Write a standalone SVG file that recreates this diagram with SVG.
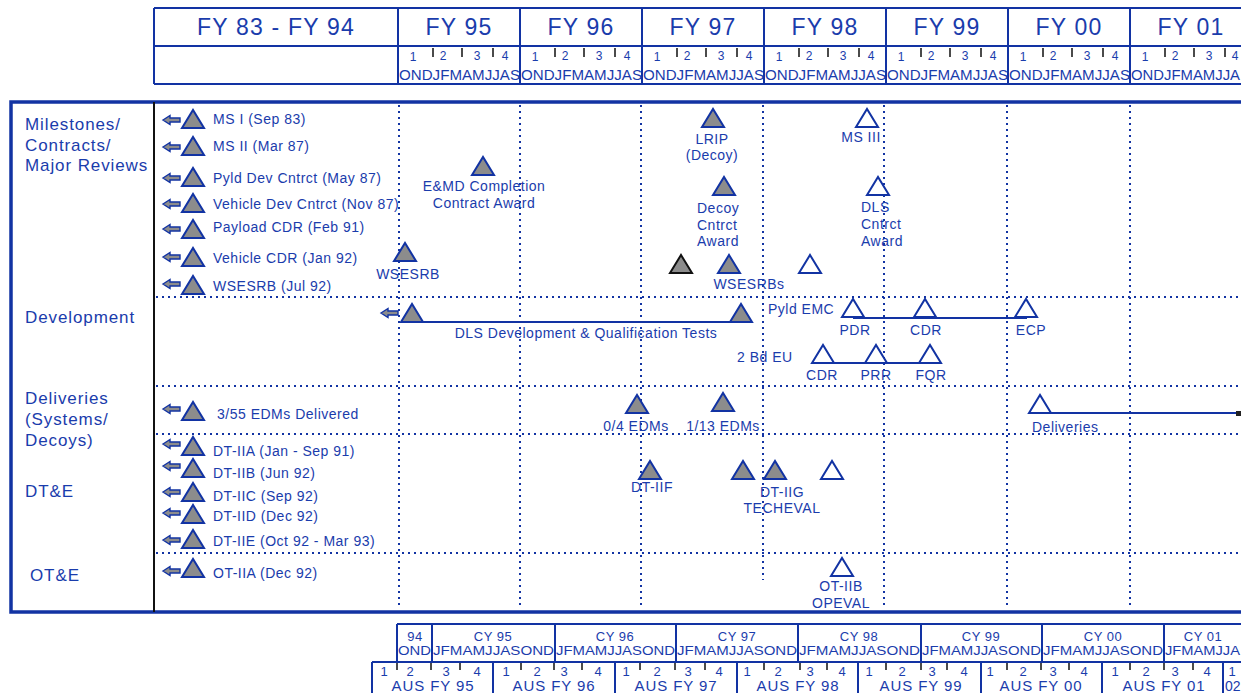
<svg xmlns="http://www.w3.org/2000/svg" xmlns:xlink="http://www.w3.org/1999/xlink" width="1241" height="693" viewBox="0 0 1241 693">
<style>
text{font-family:"Liberation Sans",Arial,sans-serif;fill:#1a3cac}
.lbl{font-size:14px;letter-spacing:0.5px}
.m{text-anchor:middle}
.cat{font-size:17px;letter-spacing:0.9px}
.fy{font-size:23px;letter-spacing:1.2px;text-anchor:middle}
.q{font-size:12px;text-anchor:middle}
.mo{font-size:14px}
.cy{font-size:13px;text-anchor:middle;letter-spacing:0.5px}
.cym{font-size:12px}
.aus{font-size:15px;text-anchor:middle;letter-spacing:0.9px}
.an{font-size:13px;text-anchor:middle}
.ln{stroke:#1233a3;stroke-width:2;fill:none}
.bx{stroke:#1233a3;stroke-width:3.5;fill:none}
.dot{stroke:#1233a3;stroke-width:2;stroke-dasharray:2 4;fill:none}
.tk{stroke:#111;stroke-width:1.5}
.g{fill:#8c8c8c;stroke:#1233a3;stroke-width:2}
.w{fill:#fff;stroke:#1233a3;stroke-width:2}
.k{fill:#8c8c8c;stroke:#111;stroke-width:2}
.ar{fill:#8c8c8c;stroke:#1233a3;stroke-width:1.4}
</style>
<defs>
<polygon id="tri" points="0,18 11,0 22,18"/>
<path id="arr" d="M0,0 L7,-4.5 L7,-2 L17,-2 L17,2 L7,2 L7,4.5 Z"/>
</defs>
<rect width="1241" height="693" fill="#fff"/>

<g id="header">
<path class="ln" d="M154,8 H1241 M154,46 H1241 M154,84 H1241 M154,8 V84 M398,8 V84 M520,8 V84 M642,8 V84 M764,8 V84 M886,8 V84 M1008,8 V84 M1130,8 V84"/>
<text class="fy" x="276" y="35">FY 83 - FY 94</text>
<text class="fy" x="459" y="35">FY 95</text>
<text class="fy" x="581" y="35">FY 96</text>
<text class="fy" x="703" y="35">FY 97</text>
<text class="fy" x="825" y="35">FY 98</text>
<text class="fy" x="947" y="35">FY 99</text>
<text class="fy" x="1069" y="35">FY 00</text>
<text class="fy" x="1191" y="35">FY 01</text>
<path class="tk" d="M433,48V57M462,48V57M493,48V57 M555,48V57M584,48V57M615,48V57 M677,48V57M706,48V57M737,48V57 M799,48V57M828,48V57M859,48V57 M921,48V57M950,48V57M981,48V57 M1043,48V57M1072,48V57M1103,48V57 M1165,48V57M1194,48V57M1225,48V57"/>
<g class="qs">
<text class="q" x="413" y="61">1</text><text class="q" x="443" y="60">2</text><text class="q" x="477" y="60">3</text><text class="q" x="505" y="60">4</text>
<text class="q" x="535" y="61">1</text><text class="q" x="565" y="60">2</text><text class="q" x="599" y="60">3</text><text class="q" x="627" y="60">4</text>
<text class="q" x="657" y="61">1</text><text class="q" x="687" y="60">2</text><text class="q" x="721" y="60">3</text><text class="q" x="749" y="60">4</text>
<text class="q" x="779" y="61">1</text><text class="q" x="809" y="60">2</text><text class="q" x="843" y="60">3</text><text class="q" x="871" y="60">4</text>
<text class="q" x="901" y="61">1</text><text class="q" x="931" y="60">2</text><text class="q" x="965" y="60">3</text><text class="q" x="993" y="60">4</text>
<text class="q" x="1023" y="61">1</text><text class="q" x="1053" y="60">2</text><text class="q" x="1087" y="60">3</text><text class="q" x="1115" y="60">4</text>
<text class="q" x="1145" y="61">1</text><text class="q" x="1175" y="60">2</text><text class="q" x="1209" y="60">3</text><text class="q" x="1235" y="60">4</text>
</g>
<text class="mo" x="399" y="80" textLength="121" lengthAdjust="spacingAndGlyphs">ONDJFMAMJJAS</text>
<text class="mo" x="521" y="80" textLength="121" lengthAdjust="spacingAndGlyphs">ONDJFMAMJJAS</text>
<text class="mo" x="643" y="80" textLength="121" lengthAdjust="spacingAndGlyphs">ONDJFMAMJJAS</text>
<text class="mo" x="765" y="80" textLength="121" lengthAdjust="spacingAndGlyphs">ONDJFMAMJJAS</text>
<text class="mo" x="887" y="80" textLength="121" lengthAdjust="spacingAndGlyphs">ONDJFMAMJJAS</text>
<text class="mo" x="1009" y="80" textLength="121" lengthAdjust="spacingAndGlyphs">ONDJFMAMJJAS</text>
<text class="mo" x="1131" y="80" textLength="109" lengthAdjust="spacingAndGlyphs">ONDJFMAMJJA</text>
</g>

<g id="frame">
<path class="bx" d="M1241,102 H11 V612 H1241"/>
<path d="M154,102 V612" stroke="#111" stroke-width="2"/>
<path class="dot" d="M156,297 H1241 M156,386 H1241 M156,434 H1241 M156,553 H1241"/>
<path class="dot" d="M399,105 V608 M520,105 V608 M641,105 V608 M763,105 V580 M884,105 V608 M1007,105 V608 M1130,105 V608"/>
</g>

<g id="categories">
<text class="cat" x="25" y="130">Milestones/</text>
<text class="cat" x="25" y="151">Contracts/</text>
<text class="cat" x="25" y="171">Major Reviews</text>
<text class="cat" x="25" y="323">Development</text>
<text class="cat" x="25" y="404">Deliveries</text>
<text class="cat" x="25" y="425">(Systems/</text>
<text class="cat" x="25" y="446">Decoys)</text>
<text class="cat" x="25" y="497">DT&amp;E</text>
<text class="cat" x="30" y="581">OT&amp;E</text>
</g>

<g id="prior-events">
<g id="ms1"><use href="#arr" class="ar" x="163" y="120"/><use href="#tri" class="g" x="182" y="110"/><text class="lbl" x="213" y="124">MS I (Sep 83)</text></g>
<g id="ms2"><use href="#arr" class="ar" x="163" y="147"/><use href="#tri" class="g" x="182" y="137"/><text class="lbl" x="213" y="151">MS II (Mar 87)</text></g>
<g id="pyld"><use href="#arr" class="ar" x="163" y="178"/><use href="#tri" class="g" x="182" y="168"/><text class="lbl" x="213" y="183">Pyld Dev Cntrct (May 87)</text></g>
<g id="vdev"><use href="#arr" class="ar" x="163" y="204"/><use href="#tri" class="g" x="182" y="194"/><text class="lbl" x="213" y="209">Vehicle Dev Cntrct (Nov 87)</text></g>
<g id="pcdr"><use href="#arr" class="ar" x="163" y="229"/><use href="#tri" class="g" x="182" y="220"/><text class="lbl" x="213" y="232">Payload CDR (Feb 91)</text></g>
<g id="vcdr"><use href="#arr" class="ar" x="163" y="257"/><use href="#tri" class="g" x="182" y="248"/><text class="lbl" x="213" y="263">Vehicle CDR (Jan 92)</text></g>
<g id="wsesrb92"><use href="#arr" class="ar" x="163" y="284"/><use href="#tri" class="g" x="182" y="276"/><text class="lbl" x="213" y="291">WSESRB (Jul 92)</text></g>
<g id="edm355"><use href="#arr" class="ar" x="163" y="409"/><use href="#tri" class="g" x="182" y="402"/><text class="lbl" x="217" y="419">3/55 EDMs Delivered</text></g>
<g id="dtiia"><use href="#arr" class="ar" x="163" y="444"/><use href="#tri" class="g" x="182" y="437"/><text class="lbl" x="213" y="456">DT-IIA (Jan - Sep 91)</text></g>
<g id="dtiib"><use href="#arr" class="ar" x="163" y="466"/><use href="#tri" class="g" x="182" y="459"/><text class="lbl" x="213" y="478">DT-IIB (Jun 92)</text></g>
<g id="dtiic"><use href="#arr" class="ar" x="163" y="492"/><use href="#tri" class="g" x="182" y="483"/><text class="lbl" x="213" y="501">DT-IIC (Sep 92)</text></g>
<g id="dtiid"><use href="#arr" class="ar" x="163" y="513"/><use href="#tri" class="g" x="182" y="505"/><text class="lbl" x="213" y="521">DT-IID (Dec 92)</text></g>
<g id="dtiie"><use href="#arr" class="ar" x="163" y="540"/><use href="#tri" class="g" x="182" y="530"/><text class="lbl" x="213" y="546">DT-IIE (Oct 92 - Mar 93)</text></g>
<g id="otiia"><use href="#arr" class="ar" x="163" y="571"/><use href="#tri" class="g" x="182" y="559"/><text class="lbl" x="213" y="578">OT-IIA (Dec 92)</text></g>
</g>

<g id="connectors">
<path class="ln" d="M412,322 H741"/>
<path class="ln" d="M853,318 H1027"/>
<path class="ln" d="M823,363 H930"/>
<path class="ln" d="M1040,413 H1237"/>
<rect x="1236" y="411" width="5" height="5" fill="#222"/>
</g>

<g id="milestones">
<g id="wsesrb"><use href="#tri" class="g" x="394" y="243"/><text class="lbl m" x="408" y="279">WSESRB</text></g>
<g id="emd"><use href="#tri" class="g" x="472" y="157"/><text class="lbl m" x="484" y="191">E&amp;MD Completion</text><text class="lbl m" x="484" y="208">Contract Award</text></g>
<g id="lrip"><use href="#tri" class="g" x="702" y="109"/><text class="lbl m" x="712" y="144">LRIP</text><text class="lbl m" x="712" y="160">(Decoy)</text></g>
<g id="decoy"><use href="#tri" class="g" x="713" y="177"/><text class="lbl" x="697" y="213">Decoy</text><text class="lbl" x="697" y="230">Cntrct</text><text class="lbl" x="697" y="246">Award</text></g>
<g id="wsesrbs"><use href="#tri" class="k" x="670" y="255"/><use href="#tri" class="g" x="718" y="255"/><use href="#tri" class="w" x="799" y="255"/><text class="lbl m" x="749" y="289">WSESRBs</text></g>
<g id="ms3"><use href="#tri" class="w" x="856" y="109"/><text class="lbl m" x="861" y="142">MS III</text></g>
<g id="dls"><use href="#tri" class="w" x="867" y="177"/><text class="lbl" x="861" y="212">DLS</text><text class="lbl" x="861" y="229">Cntrct</text><text class="lbl" x="861" y="246">Award</text></g>
</g>

<g id="development">
<g id="dls-dev"><use href="#arr" class="ar" x="381" y="313"/><use href="#tri" class="g" x="401" y="304"/><use href="#tri" class="g" x="730" y="304"/><text class="lbl m" x="586" y="338">DLS Development &amp; Qualification Tests</text></g>
<g id="pyld-emc"><text class="lbl" x="768" y="314">Pyld EMC</text>
<use href="#tri" class="w" x="842" y="299"/><use href="#tri" class="w" x="914" y="299"/><use href="#tri" class="w" x="1015" y="299"/>
<text class="lbl m" x="855" y="335">PDR</text><text class="lbl m" x="926" y="335">CDR</text><text class="lbl m" x="1031" y="335">ECP</text></g>
<g id="bd-eu"><text class="lbl" x="737" y="362">2 Bd EU</text>
<use href="#tri" class="w" x="812" y="345"/><use href="#tri" class="w" x="865" y="345"/><use href="#tri" class="w" x="919" y="345"/>
<text class="lbl m" x="822" y="380">CDR</text><text class="lbl m" x="876" y="380">PRR</text><text class="lbl m" x="931" y="380">FQR</text></g>
</g>

<g id="deliveries">
<g id="edm04"><use href="#tri" class="g" x="626" y="395"/><text class="lbl m" x="636" y="431">0/4 EDMs</text></g>
<g id="edm113"><use href="#tri" class="g" x="712" y="393"/><text class="lbl m" x="723" y="431">1/13 EDMs</text></g>
<g id="deliv"><use href="#tri" class="w" x="1029" y="395"/><text class="lbl" x="1032" y="432">Deliveries</text></g>
</g>

<g id="tests">
<g id="dtiif"><use href="#tri" class="g" x="639" y="461"/><text class="lbl m" x="652" y="492">DT-IIF</text></g>
<g id="dtiig"><use href="#tri" class="g" x="732" y="461"/><use href="#tri" class="g" x="764" y="461"/><use href="#tri" class="w" x="821" y="461"/><text class="lbl m" x="782" y="497">DT-IIG</text><text class="lbl m" x="782" y="513">TECHEVAL</text></g>
<g id="otiib"><use href="#tri" class="w" x="831" y="558"/><text class="lbl m" x="841" y="591">OT-IIB</text><text class="lbl m" x="841" y="608">OPEVAL</text></g>
</g>

<g id="footer">
<path class="ln" d="M397,624 H1241 M372,662 H1241 M397,624 V662 M432,624 V662 M555,624 V662 M676,624 V662 M798,624 V662 M921,624 V662 M1042,624 V662 M1164,624 V662"/>
<path class="ln" d="M372,662 V693 M493,662 V693 M615,662 V693 M737,662 V693 M858,662 V693 M981,662 V693 M1102,662 V693 M1223,662 V693"/>
<text class="cy" x="415" y="641">94</text>
<text class="cym" x="398" y="655" textLength="33" lengthAdjust="spacingAndGlyphs">OND</text>
<text class="cy" x="493" y="641">CY 95</text>
<text class="cy" x="615" y="641">CY 96</text>
<text class="cy" x="737" y="641">CY 97</text>
<text class="cy" x="859" y="641">CY 98</text>
<text class="cy" x="981" y="641">CY 99</text>
<text class="cy" x="1103" y="641">CY 00</text>
<text class="cy" x="1203" y="641">CY 01</text>
<text class="cym" x="433" y="655" textLength="121" lengthAdjust="spacingAndGlyphs">JFMAMJJASOND</text>
<text class="cym" x="556" y="655" textLength="119" lengthAdjust="spacingAndGlyphs">JFMAMJJASOND</text>
<text class="cym" x="677" y="655" textLength="120" lengthAdjust="spacingAndGlyphs">JFMAMJJASOND</text>
<text class="cym" x="799" y="655" textLength="121" lengthAdjust="spacingAndGlyphs">JFMAMJJASOND</text>
<text class="cym" x="922" y="655" textLength="119" lengthAdjust="spacingAndGlyphs">JFMAMJJASOND</text>
<text class="cym" x="1043" y="655" textLength="120" lengthAdjust="spacingAndGlyphs">JFMAMJJASOND</text>
<text class="cym" x="1165" y="655" textLength="75" lengthAdjust="spacingAndGlyphs">JFMAMJJA</text>
<path class="tk" d="M397,663V670M431,663V670M460,663V670 M521,663V670M554,663V670M582,663V670 M640,663V670M675,663V670M705,663V670 M764,663V670M800,663V670M827,663V670 M886,663V670M921,663V670M947,663V670 M1007,663V670M1041,663V670M1069,663V670 M1130,663V670M1164,663V670M1193,663V670"/>
<g>
<text class="an" x="384" y="676">1</text><text class="an" x="410" y="676">2</text><text class="an" x="446" y="676">3</text><text class="an" x="477" y="676">4</text>
<text class="an" x="506" y="676">1</text><text class="an" x="537" y="676">2</text><text class="an" x="564" y="676">3</text><text class="an" x="598" y="676">4</text>
<text class="an" x="626" y="676">1</text><text class="an" x="657" y="676">2</text><text class="an" x="688" y="676">3</text><text class="an" x="719" y="676">4</text>
<text class="an" x="747" y="676">1</text><text class="an" x="778" y="676">2</text><text class="an" x="810" y="676">3</text><text class="an" x="842" y="676">4</text>
<text class="an" x="869" y="676">1</text><text class="an" x="902" y="676">2</text><text class="an" x="932" y="676">3</text><text class="an" x="964" y="676">4</text>
<text class="an" x="990" y="676">1</text><text class="an" x="1023" y="676">2</text><text class="an" x="1053" y="676">3</text><text class="an" x="1084" y="676">4</text>
<text class="an" x="1115" y="676">1</text><text class="an" x="1146" y="676">2</text><text class="an" x="1175" y="676">3</text><text class="an" x="1207" y="676">4</text>
<text class="an" x="1232" y="676">1</text>
</g>
<text class="aus" x="433" y="691">AUS FY 95</text>
<text class="aus" x="554" y="691">AUS FY 96</text>
<text class="aus" x="676" y="691">AUS FY 97</text>
<text class="aus" x="798" y="691">AUS FY 98</text>
<text class="aus" x="921" y="691">AUS FY 99</text>
<text class="aus" x="1041" y="691">AUS FY 00</text>
<text class="aus" x="1164" y="691">AUS FY 01</text>
<text style="font-size:14px" x="1225" y="691">02</text>
</g>
</svg>
